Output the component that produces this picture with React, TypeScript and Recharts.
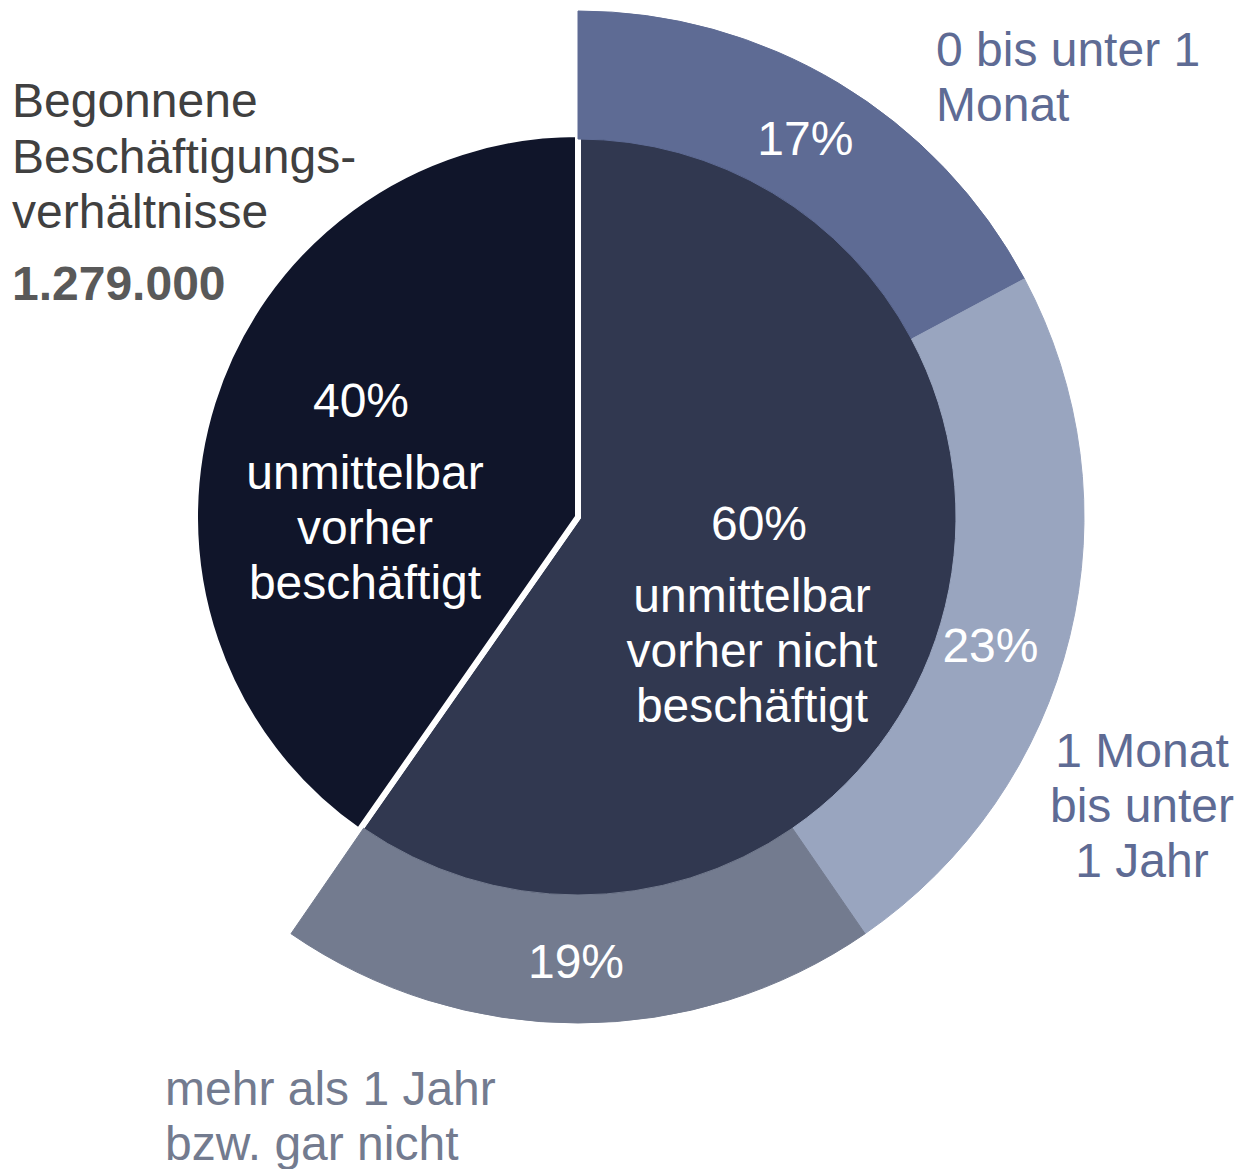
import React from 'react';
import { PieChart, Pie, Cell } from 'recharts';

// inner pie: share of new jobs by previous status
const innerNames = ['unmittelbar vorher nicht beschäftigt', 'unmittelbar vorher beschäftigt'];
const innerValues = [59.7, 40.3];
const innerLines = [
  ['unmittelbar', 'vorher nicht', 'beschäftigt'],
  ['unmittelbar', 'vorher', 'beschäftigt'],
];

// outer ring: duration without employment (share of all)
const ringNames = ['0 bis unter 1 Monat', '1 Monat bis unter 1 Jahr', 'mehr als 1 Jahr bzw. gar nicht'];
const ringValues = [17.2, 23.2, 19.2];
const ringLines = [
  ['0 bis unter 1', 'Monat'],
  ['1 Monat', 'bis unter', '1 Jahr'],
  ['mehr als 1 Jahr', 'bzw. gar nicht'],
];

const titleLines = ['Begonnene', 'Beschäftigungs-', 'verhältnisse'];
const totalText = '1.279.000';

const INNER_COLORS = ['#313850', '#10152A'];
const RING_COLORS = ['#5E6B94', '#99A5BF', '#737B8F'];
const RING_TEXT_COLORS = ['#5E6B94', '#5E6B94', '#737B8F'];

const FONT = '"Liberation Sans", Arial, sans-serif';
const FS = 48;
const CX = 578;
const CY = 517;
const RAD = Math.PI / 180;

const innerData = innerNames.map((name, i) => ({ name, value: innerValues[i], lines: innerLines[i] }));
const ringRest = 100 - ringValues.reduce((a, b) => a + b, 0);
const ringData = [
  ...ringNames.map((name, i) => ({ name, value: ringValues[i], lines: ringLines[i] })),
  { name: 'rest', value: ringRest, lines: [] as string[] },
];

// text block anchors (first baseline) relative to pie centre
const innerLabelOffset = [
  { dx: 174, dy: 23, pct: 7 },
  { dx: -213, dy: -100, pct: -4 },
];
const ringLabelNudge = [
  { dx: 0, dy: 0 },
  { dx: -17, dy: 23 },
  { dx: -2, dy: 2 },
];
const ringCategoryPos = [
  { x: 936, y: 66, anchor: 'start' },
  { x: 1142, y: 767, anchor: 'middle' },
  { x: 165, y: 1105, anchor: 'start' },
];

const renderInnerLabel = (props: any) => {
  const { cx, cy, index, payload, value } = props;
  const off = innerLabelOffset[index];
  const x = cx + off.dx;
  const y = cy + off.dy;
  const lines: string[] = (payload && payload.lines) || innerData[index].lines;
  return (
    <text x={x} y={y} fill="#fff" fontSize={FS} fontFamily={FONT} textAnchor="middle">
      <tspan x={x + off.pct} y={y}>{Math.round(value)}%</tspan>
      {lines.map((l, i) => (
        <tspan key={i} x={x} y={y + 72 + i * 55}>{l}</tspan>
      ))}
    </text>
  );
};

const renderRingLabel = (props: any) => {
  const { cx, cy, index, midAngle, value } = props;
  if (index >= ringNames.length) return null;
  const r = 442;
  const n = ringLabelNudge[index];
  const x = cx + r * Math.cos(-midAngle * RAD) + n.dx;
  const y = cy + r * Math.sin(-midAngle * RAD) + n.dy + 17;
  const pos = ringCategoryPos[index];
  return (
    <g>
      <text x={x} y={y} fill="#fff" fontSize={FS} fontFamily={FONT} textAnchor="middle">
        {Math.round(value)}%
      </text>
      <text x={pos.x} y={pos.y} fill={RING_TEXT_COLORS[index]} fontSize={FS} fontFamily={FONT} textAnchor={pos.anchor as any}>
        {ringData[index].lines.map((l, i) => (
          <tspan key={i} x={pos.x} y={pos.y + i * 55}>{l}</tspan>
        ))}
      </text>
    </g>
  );
};

const App = () => {
  return (
    <div style={{ position: 'absolute', left: 0, top: 0, background: '#fff' }}>
      <PieChart width={1247} height={1169} margin={{ top: 0, right: 0, bottom: 0, left: 0 }}>
        <Pie
          data={innerData}
          dataKey="value"
          cx={CX}
          cy={CY}
          innerRadius={0}
          outerRadius={383}
          startAngle={90}
          endAngle={-270}
          stroke="#fff"
          strokeWidth={6}
          label={renderInnerLabel}
          labelLine={false}
          isAnimationActive={false}
        >
          {innerData.map((d, i) => (
            <Cell key={d.name} fill={INNER_COLORS[i]} />
          ))}
        </Pie>
        <Pie
          data={ringData}
          dataKey="value"
          cx={CX}
          cy={CY}
          innerRadius={378}
          outerRadius={506}
          startAngle={90}
          endAngle={-270}
          label={renderRingLabel}
          labelLine={false}
          isAnimationActive={false}
        >
          {ringData.map((d, i) => (
            <Cell
              key={d.name}
              fill={i < RING_COLORS.length ? RING_COLORS[i] : 'none'}
              stroke={i < RING_COLORS.length ? RING_COLORS[i] : 'none'}
              strokeWidth={1}
            />
          ))}
        </Pie>
        <text x={12} y={117} fill="#404040" fontSize={FS} fontFamily={FONT}>
          {titleLines.map((l, i) => (
            <tspan key={i} x={12} y={117 + i * 55.5}>{l}</tspan>
          ))}
        </text>
        <text x={12} y={300} fill="#595959" fontSize={FS} fontWeight="bold" fontFamily={FONT}>
          {totalText}
        </text>
      </PieChart>
    </div>
  );
};

export default App;
